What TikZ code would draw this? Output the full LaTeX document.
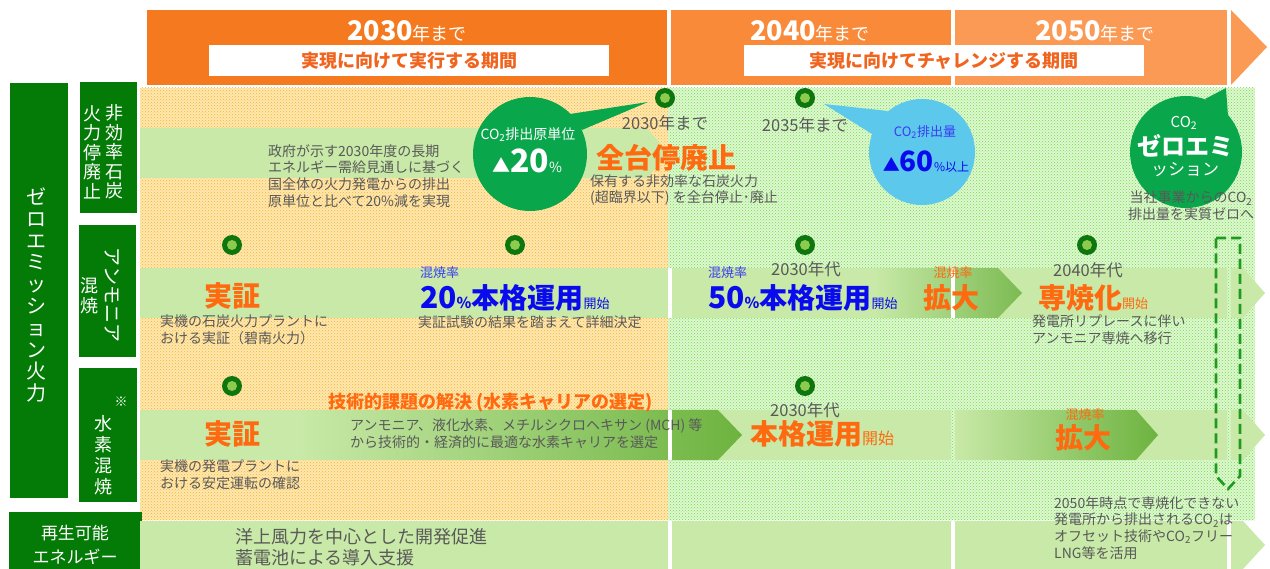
\documentclass[tikz,border=0pt]{standalone}
\usepackage{fontspec}
\setmainfont{Noto Sans CJK JP}
\usetikzlibrary{patterns}

\definecolor{hdrA}{HTML}{F57A1F}
\definecolor{hdrB}{HTML}{F98A3A}
\definecolor{hdrC}{HTML}{FB9A55}
\definecolor{periodorange}{HTML}{F0641E}
\definecolor{boxgreen}{HTML}{047B06}
\definecolor{band}{HTML}{C8E9A7}
\definecolor{bandDk}{HTML}{6DB33F}
\definecolor{txtgray}{HTML}{595959}
\definecolor{txtorange}{HTML}{FF6A10}
\definecolor{txtblue}{HTML}{0A0AEE}
\definecolor{lblue}{HTML}{3B3BF2}
\definecolor{bgorange}{HTML}{FFE8B0}
\definecolor{dotorange}{HTML}{F5B232}
\definecolor{bggreen}{HTML}{E0F7D2}
\definecolor{dotgreen}{HTML}{6CDF48}
\definecolor{bubgreen}{HTML}{0AA64C}
\definecolor{bubblue}{HTML}{5CC8EC}
\definecolor{msdark}{HTML}{0E760E}
\definecolor{mslight}{HTML}{8CCB4E}
\definecolor{dashgreen}{HTML}{1E9B1E}

\newcommand{\fsz}[1]{\fontsize{#1}{#1}\selectfont}

\tikzset{
  graynote/.style={text=txtgray, font=\fontsize{14}{16.8}\selectfont, align=left, anchor=west, inner sep=0pt},
  yeartext/.style={text=txtgray, font=\fontsize{16.5}{16.5}\selectfont, inner sep=0pt},
  bigorange/.style={text=txtorange, font=\fontsize{28}{28}\selectfont\bfseries, inner sep=0pt},
  smallorange/.style={text=txtorange, font=\fontsize{13}{13}\selectfont, inner sep=0pt},
  smallblue/.style={text=lblue, font=\fontsize{13}{13}\selectfont, inner sep=0pt},
  vlabel/.style={text=white, align=center, inner sep=0pt, font=\fontsize{18}{19.5}\selectfont},
  hdrtext/.style={text=white, anchor=base, inner sep=0pt},
  periodbox/.style={fill=white, text=periodorange, font=\fontsize{18}{18}\selectfont\bfseries,
                    minimum width=400pt, minimum height=31pt, inner sep=0pt},
  bubtext/.style={text=white, inner sep=0pt, align=center},
}

\begin{document}
\begin{tikzpicture}[x=1pt, y=-1pt]
    \useasboundingbox (0,0) rectangle (1270,569);
    \fill[white] (0,0) rectangle (1270,569);

    % Header band
    \fill[hdrA] (147,10) rectangle (667,85);
    \fill[hdrB] (671,10) rectangle (951,85);
    \fill[hdrC] (955,10) rectangle (1227,85);
    \fill[hdrC] (1231,10) -- (1267,47) -- (1231,85) -- cycle;
    \node[hdrtext] (h2030) at (407,41) {{\fsz{27}\bfseries 2030}{\fsz{18}年まで}};
    \node[hdrtext] (h2040) at (810,41) {{\fsz{27}\bfseries 2040}{\fsz{18}年まで}};
    \node[hdrtext] (h2050) at (1095,41) {{\fsz{27}\bfseries 2050}{\fsz{18}年まで}};
    \node[periodbox] (exec) at (409,60.5) {実現に向けて実行する期間};
    \node[periodbox] (chal) at (944,60.5) {実現に向けてチャレンジする期間};

    % Dotted backgrounds
    \fill[bgorange] (140,88) rectangle (668,520);
    \fill[pattern=crosshatch dots, pattern color=dotorange] (140,88) rectangle (668,520);
    \fill[bggreen] (668,88) rectangle (1255,520);
    \fill[pattern=crosshatch dots, pattern color=dotgreen] (668,88) rectangle (1255,520);

    % Left labels
    \fill[boxgreen] (10,83) rectangle (68,498);
    \node[vlabel, font=\fontsize{20}{21.8}\selectfont] (zeroemi) at (37,295)
        {ゼ\\ロ\\エ\\ミ\\ッ\\シ\\ョ\\ン\\火\\力};
    \fill[boxgreen] (80,82) rectangle (137,213);
    \node[vlabel] (coalA) at (114,152) {非\\効\\率\\石\\炭};
    \node[vlabel] (coalB) at (92,152) {火\\力\\停\\廃\\止};
    \fill[boxgreen] (79,225) rectangle (136,357);
    \node[vlabel, rotate=-90, font=\fontsize{19}{19}\selectfont] (ammA) at (112,295) {アンモニア};
    \node[vlabel] (ammB) at (89,296) {混\\焼};
    \fill[boxgreen] (79,368) rectangle (137,502);
    \node[vlabel, font=\fontsize{13}{13}\selectfont] (mark) at (121,402) {※};
    \node[vlabel, font=\fontsize{18}{21}\selectfont] (hyd) at (103,455) {水\\素\\混\\焼};
    \fill[boxgreen] (9,512) rectangle (142,575);
    \node[vlabel, font=\fontsize{17}{24}\selectfont] (renew) at (75,545) {再生可能\\エネルギー};

    % Bands
    \fill[band] (140,128) -- (647,128) -- (668,153) -- (647,178) -- (140,178) -- cycle;
    \foreach \ya/\yb in {268/318, 410/460, 521/575} {
        \fill[band] (140,\ya) rectangle (668,\yb);
        \fill[band] (672,\ya) rectangle (951,\yb);
        \fill[band] (955,\ya) rectangle (1227,\yb);
    }
    \fill[band] (1231,268) -- (1243,268) -- (1265,293) -- (1243,318) -- (1231,318) -- cycle;
    \fill[band] (1231,410) -- (1243,410) -- (1265,435) -- (1243,460) -- (1231,460) -- cycle;
    \fill[band] (1231,521) -- (1243,521) -- (1265,545) -- (1243,569) -- (1231,569) -- cycle;

    % Gradient chevrons
    \shade[left color=band, right color=bandDk!90] (875,268) -- (998,268) -- (1022,293) -- (998,318) -- (875,318) -- cycle;
    \shade[left color=band, right color=bandDk] (300,410) -- (718,410) -- (742,435) -- (718,460) -- (300,460) -- cycle;
    \shade[left color=band, right color=bandDk] (955,410) -- (1136,410) -- (1158,435) -- (1136,460) -- (955,460) -- cycle;
    \fill[white] (668,268) rectangle (672,318);
    \fill[white] (668,410) rectangle (672,460);
    \fill[white] (951,268) rectangle (955,318);

    % Milestones
    \foreach \mx/\my in {665/98, 805/98, 232/245, 515/245, 805/245, 1087/245, 232/386, 805/386} {
        \fill[msdark] (\mx,\my) circle (10pt);
        \fill[mslight] (\mx,\my) circle (5pt);
    }

    % Bubbles
    \fill[bubgreen] (570,114) -- (648,102) -- (582,130) -- cycle;
    \fill[bubgreen] (530,154) circle (57pt);
    \node[bubtext, font=\fsz{14}] (rate) at (528,135) {CO\textsubscript{2}排出原単位};
    \node[bubtext, anchor=base] (rateval) at (527,173) {{\fsz{18}▲}{\fsz{32}\bfseries 20}{\fsz{14}\%}};
    \fill[bubblue] (824,104) -- (888,111) -- (872,134) -- cycle;
    \fill[bubblue] (922,152) circle (53pt);
    \node[bubtext, text=lblue, font=\fsz{13}] (emis) at (925,132) {CO\textsubscript{2}排出量};
    \node[bubtext, text=txtblue, anchor=base] (emisval) at (926,172) {{\fsz{17}▲}{\fsz{28}\bfseries 60}{\fsz{12}\%以上}};
    \fill[bubgreen] (1205,99) -- (1226,88) -- (1228,116) -- cycle;
    \fill[bubgreen] (1186,152) circle (56pt);
    \node[bubtext, font=\fsz{15}] (zco) at (1184,123) {CO\textsubscript{2}};
    \node[bubtext, font=\fsz{24}\bfseries] (zzero) at (1185,146) {ゼロエミ};
    \node[bubtext, font=\fsz{17}] (zsion) at (1185,170) {ッション};

    % Row 1 texts
    \node[graynote] (gov) at (268,176) {政府が示す2030年度の長期\\エネルギー需給見通しに基づく\\国全体の火力発電からの排出\\原単位と比べて20\%減を実現};
    \node[yeartext] (by2030) at (665,123) {2030年まで};
    \node[yeartext] (by2035) at (805,125) {2035年まで};
    \node[bigorange] (stop) at (666,158) {全台停廃止};
    \node[graynote] (stopnote) at (590,190) {保有する非効率な石炭火力\\(超臨界以下) を全台停止･廃止};
    \node[graynote, align=center, anchor=center] (zeronote) at (1191,206) {当社事業からのCO\textsubscript{2}\\排出量を実質ゼロへ};

    % Row 2 texts
    \node[bigorange] (ammdemo) at (232,296) {実証};
    \node[graynote] (ammdemonote) at (160,330) {実機の石炭火力プラントに\\おける実証（碧南火力）};
    \node[smallblue, anchor=west] (mix20) at (420,273) {混焼率};
    \node[text=txtblue, anchor=base west, inner sep=0pt] (op20) at (420,309)
        {{\fsz{30}\bfseries 20}{\fsz{15}\bfseries\%}{\fsz{28}\bfseries 本格運用}{\fsz{13}開始}};
    \node[graynote] (op20note) at (418,322) {実証試験の結果を踏まえて詳細決定};
    \node[smallblue, anchor=west] (mix50) at (708,273) {混焼率};
    \node[yeartext] (dec30a) at (806,269) {2030年代};
    \node[text=txtblue, anchor=base west, inner sep=0pt] (op50) at (708,309)
        {{\fsz{30}\bfseries 50}{\fsz{15}\bfseries\%}{\fsz{28}\bfseries 本格運用}{\fsz{13}開始}};
    \node[smallorange] (mixup) at (953,273) {混焼率};
    \node[bigorange] (expand) at (951,298) {拡大};
    \node[yeartext] (dec40) at (1088,270) {2040年代};
    \node[text=txtorange, anchor=base west, inner sep=0pt] (mono) at (1038,309)
        {{\fsz{28}\bfseries 専焼化}{\fsz{13}開始}};
    \node[graynote] (mononote) at (1032,330) {発電所リプレースに伴い\\アンモニア専焼へ移行};

    % Row 3 texts
    \node[bigorange] (hyddemo) at (232,434) {実証};
    \node[graynote] (hyddemonote) at (160,475) {実機の発電プラントに\\おける安定運転の確認};
    \node[text=txtorange, font=\fsz{18}\bfseries, anchor=west, inner sep=0pt] (tech) at (328,403)
        {技術的課題の解決 (水素キャリアの選定)};
    \node[graynote] (technote) at (350,434) {アンモニア、液化水素、メチルシクロヘキサン (MCH) 等\\から技術的・経済的に最適な水素キャリアを選定};
    \node[yeartext] (dec30b) at (805,410) {2030年代};
    \node[text=txtorange, anchor=base west, inner sep=0pt] (hydop) at (750,444)
        {{\fsz{28}\bfseries 本格運用}{\fsz{16}開始}};
    \node[smallorange] (hmixup) at (1085,415) {混焼率};
    \node[bigorange] (hexpand) at (1083,438) {拡大};

    % Dashed arrow to 2050
    \draw[dashgreen, line width=2.6pt, dash pattern=on 10pt off 5pt]
        (1216,238) -- (1240,238) -- (1240,476) -- (1228,489) -- (1216,476) -- cycle;
    \node[graynote] (offset) at (1054,528) {2050年時点で専焼化できない\\発電所から排出されるCO\textsubscript{2}は\\オフセット技術やCO\textsubscript{2}フリー\\LNG等を活用};

    % Row 4 texts
    \node[graynote, font=\fontsize{18}{21}\selectfont] (renewnote) at (235,547) {洋上風力を中心とした開発促進\\蓄電池による導入支援};
\end{tikzpicture}
\end{document}
